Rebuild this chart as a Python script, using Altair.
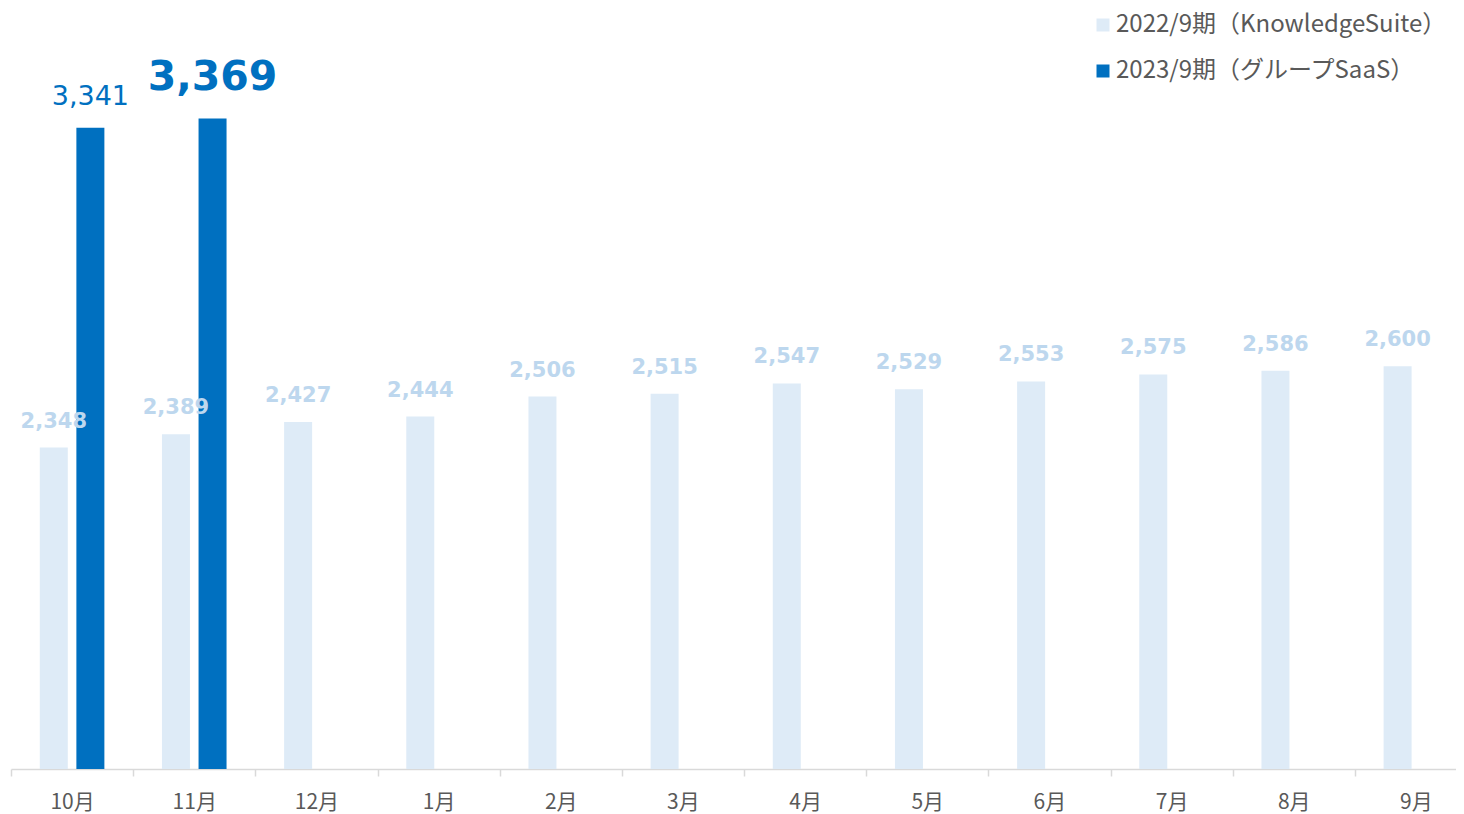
import altair as alt
import pandas as pd

months = ["10月", "11月", "12月", "1月", "2月", "3月", "4月", "5月", "6月", "7月", "8月", "9月"]
fy2022 = [2348, 2389, 2427, 2444, 2506, 2515, 2547, 2529, 2553, 2575, 2586, 2600]
fy2023 = [3341, 3369]
series = ["2022/9期（KnowledgeSuite）", "2023/9期（グループSaaS）"]
colors = ["#deebf7", "#0070c0"]

rows = []
for m, v in zip(months, fy2022):
    rows.append({"month": m, "series": series[0], "value": v})
for m, v in zip(months, fy2023):
    rows.append({"month": m, "series": series[1], "value": v})
df = pd.DataFrame(rows)

x = alt.X(
    "month:N",
    sort=months,
    scale=alt.Scale(type="band", range=[0, 1466], paddingInner=0, paddingOuter=0),
    axis=alt.Axis(
        title=None,
        tickBand="extent",
        domainColor="#d9d9d9",
        tickColor="#d9d9d9",
        domainWidth=1.5,
        tickWidth=1.5,
        tickSize=7,
        labelFont="Noto Sans CJK JP",
        labelFontSize=21,
        labelColor="#595959",
        labelPadding=15,
        labelAngle=0,
    ),
)
xo = alt.XOffset("series:N", sort=series, scale=alt.Scale(paddingOuter=0.669, paddingInner=0))
y = alt.Y("value:Q", scale=alt.Scale(domain=[1350, 3700], zero=False, nice=False), axis=None)
y2 = alt.Y2(datum=1350)

color = alt.Color(
    "series:N",
    sort=series,
    scale=alt.Scale(domain=series, range=colors),
    legend=alt.Legend(
        title=None,
        orient="none",
        legendX=1080,
        legendY=1,
        padding=0,
        symbolType="square",
        symbolSize=169,
        symbolStrokeWidth=0,
        labelFont="Noto Sans CJK JP",
        labelFontSize=24,
        labelColor="#595959",
        labelLimit=500,
        rowPadding=22,
        labelOffset=1,
    ),
)

base = alt.Chart(df)

bars = base.mark_bar(size=28).encode(x=x, xOffset=xo, y=y, y2=y2, color=color)

t22 = base.transform_filter(alt.datum.series == series[0]).mark_text(
    font="DejaVu Sans", fontWeight="bold", fontSize=21, color="#bdd7ee", dy=-20, baseline="alphabetic"
).encode(x=x, xOffset=xo, y=y, text=alt.Text("value:Q", format=","))

t23a = base.transform_filter((alt.datum.series == series[1]) & (alt.datum.month == "10月")).mark_text(
    font="DejaVu Sans", fontWeight="normal", fontSize=27, color="#0070c0", dy=-23, baseline="alphabetic"
).encode(x=x, xOffset=xo, y=y, text=alt.Text("value:Q", format=","))

t23b = base.transform_filter((alt.datum.series == series[1]) & (alt.datum.month == "11月")).mark_text(
    font="DejaVu Sans", fontWeight="bold", fontSize=41, color="#0070c0", dy=-29, baseline="alphabetic"
).encode(x=x, xOffset=xo, y=y, text=alt.Text("value:Q", format=","))

chart = alt.layer(bars, t22, t23a, t23b).properties(
    width=1445,
    height=757,
    padding={"left": 3, "top": 4, "right": 0, "bottom": 45},
    autosize=alt.AutoSizeParams(type="none"),
    background="white",
).configure_view(stroke=None)

chart.save("out.html", embed_options={"renderer": "svg", "actions": False})
